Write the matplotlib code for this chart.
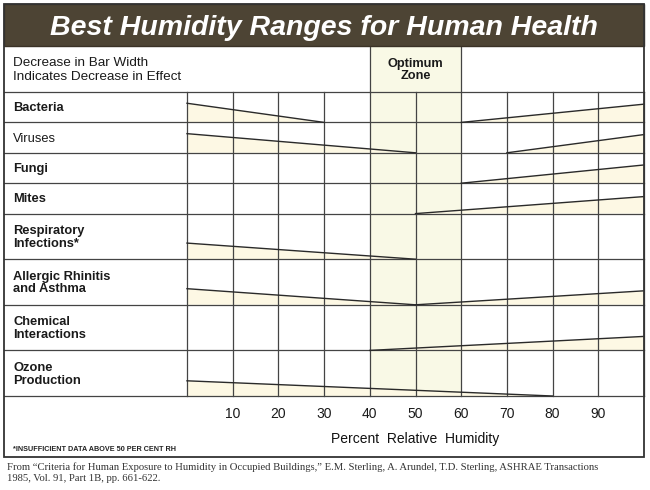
import matplotlib.pyplot as plt
from matplotlib.patches import Polygon, Rectangle

# Дані: рядки таблиці
rows = ['Bacteria', 'Viruses', 'Fungi', 'Mites', 'Respiratory\nInfections*',
        'Allergic Rhinitis\nand Asthma', 'Chemical\nInteractions', 'Ozone\nProduction']
row_size = [1, 1, 1, 1, 1.5, 1.5, 1.5, 1.5]
label_weight = ['bold', 'normal', 'bold', 'bold', 'bold', 'bold', 'bold', 'bold']

# Клини: рядок, початок і кінець (% RH), ширина смуги на початку і в кінці (у висотах малого рядка)
wedge_row = [0, 0, 1, 1, 2, 3, 4, 5, 5, 6, 7]
wedge_from = [0, 60, 0, 70, 60, 50, 0, 0, 50, 40, 0]
wedge_to = [30, 100, 50, 100, 100, 100, 50, 50, 100, 100, 80]
width_from = [0.63, 0, 0.63, 0, 0, 0, 0.53, 0.53, 0, 0, 0.5]
width_to = [0, 0.6, 0, 0.6, 0.6, 0.56, 0, 0, 0.46, 0.46, 0]

optimum = (40, 60)
ticks = [10, 20, 30, 40, 50, 60, 70, 80, 90]

title = 'Best Humidity Ranges for Human Health'
source = ('From \u201cCriteria for Human Exposure to Humidity in Occupied Buildings,\u201d '
          'E.M. Sterling, A. Arundel, T.D. Sterling, ASHRAE Transactions\n'
          '1985, Vol. 91, Part 1B, pp. 661-622.')

# Розмітка (пікселі)
PX = 4.57        # пікселів на 1 % RH
X0 = 187         # положення 0 % RH
UNIT = 30.4      # висота малого рядка
TOP, HEAD, GRID = 4, 46, 92
BOTTOM = 457

def lx(px):
    return (px - X0) / PX

plt.rcParams['font.family'] = ['Liberation Sans', 'DejaVu Sans']
fig = plt.figure(figsize=(6.5, 4.9), dpi=100)
ax = fig.add_axes([0, 0, 1, 1])
ax.set_xlim(lx(0), lx(650))
ax.set_ylim(490, 0)
ax.axis('off')

line_c = '#444444'
left, right = lx(4), 100

# межі рядків
bounds = [GRID]
for s in row_size:
    bounds.append(bounds[-1] + s * UNIT)
grid_bottom = bounds[-1]

# Оптимальна зона
ax.add_patch(Rectangle((optimum[0], HEAD), optimum[1] - optimum[0], grid_bottom - HEAD,
                       facecolor='#f9f9e6', edgecolor='none', zorder=1))

# Клини
for r, a, b, wa, wb in zip(wedge_row, wedge_from, wedge_to, width_from, width_to):
    base = bounds[r + 1]
    pts = [(a, base), (a, base - wa * UNIT), (b, base - wb * UNIT), (b, base)]
    ax.add_patch(Polygon(pts, closed=True, facecolor='#fdf8e4', edgecolor='none', zorder=2))
    ax.plot([a, b], [base - wa * UNIT, base - wb * UNIT], color='#2a2a2a', lw=1.0, zorder=4)

# Сітка
for v in range(0, 101, 10):
    ax.plot([v, v], [GRID, grid_bottom], color=line_c, lw=0.9, zorder=3)
for yb in bounds:
    ax.plot([left, right], [yb, yb], color=line_c, lw=0.9, zorder=3)
for v in optimum:
    ax.plot([v, v], [HEAD, GRID], color=line_c, lw=0.9, zorder=3)

# Заголовок
ax.add_patch(Rectangle((left, TOP), right - left, HEAD - TOP, facecolor='#4d4434',
                       edgecolor='#3a3226', lw=1, zorder=5))
ax.text((left + right) / 2, (TOP + HEAD) / 2 + 3, title, color='white', fontsize=20.5,
        fontweight='bold', fontstyle='italic', ha='center', va='center', zorder=6)

# Зовнішня рамка
ax.add_patch(Rectangle((left, TOP), right - left, BOTTOM - TOP, facecolor='none',
                       edgecolor='#333333', lw=1.3, zorder=6))

# Шапка
ax.text(lx(13), 70, 'Decrease in Bar Width\nIndicates Decrease in Effect', fontsize=9.7,
        ha='left', va='center', color='#1a1a1a', linespacing=1.25)
ax.text(sum(optimum) / 2, 70, 'Optimum\nZone', fontsize=9.2, fontweight='bold',
        ha='center', va='center', color='#1a1a1a', linespacing=1.1)

# Підписи рядків
for name, w, y0, y1 in zip(rows, label_weight, bounds[:-1], bounds[1:]):
    ax.text(lx(13), (y0 + y1) / 2 + 1, name, fontsize=9.3, fontweight=w, ha='left',
            va='center', color='#1a1a1a', linespacing=1.1)

# Вісь вологості
for t in ticks:
    ax.text(t, 414, str(t), fontsize=10, ha='center', va='center', color='#1a1a1a')
ax.text(50, 439, 'Percent  Relative  Humidity', fontsize=10, ha='center', va='center',
        color='#111111')
ax.text(lx(13), 449, '*INSUFFICIENT DATA ABOVE 50 PER CENT RH', fontsize=5.2,
        fontweight='bold', ha='left', va='center', color='#222222')

# Джерело
ax.text(lx(7), 473, source, fontsize=7.7, family='Liberation Serif', ha='left',
        va='center', color='#333333', linespacing=1.3)

fig.savefig('out.png', dpi=100)
